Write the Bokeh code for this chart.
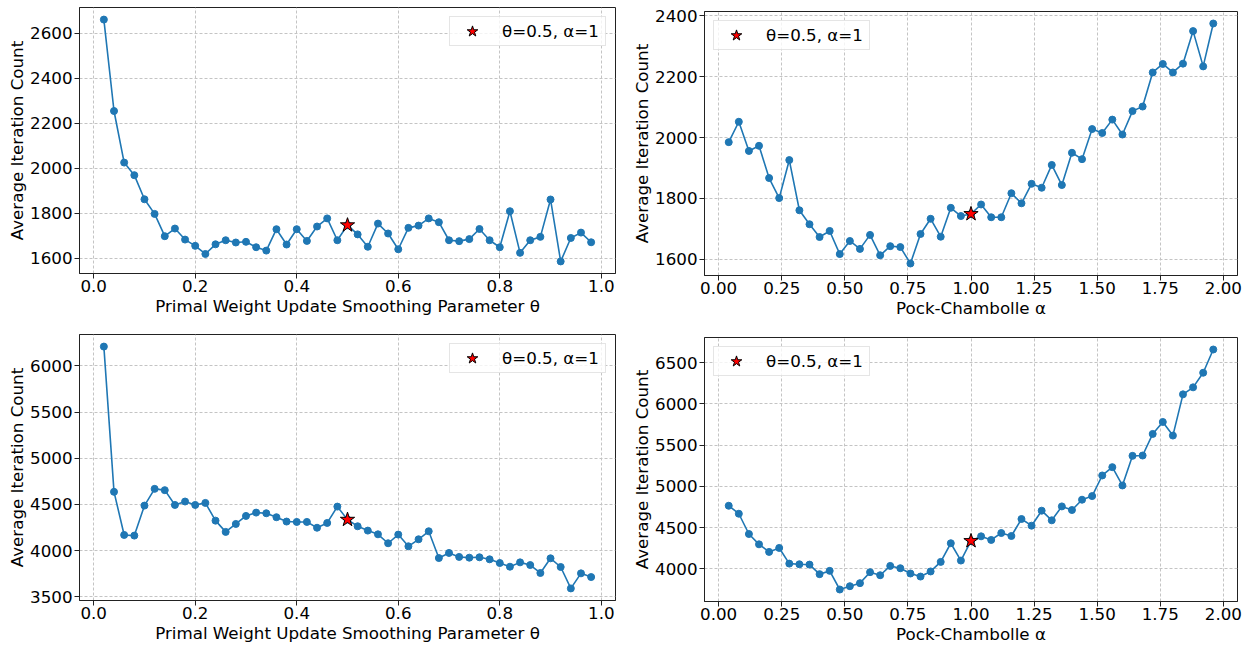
from bokeh.plotting import figure
from bokeh.models import FixedTicker, Range1d, Legend, LegendItem, NumeralTickFormatter
from bokeh.layouts import row, column
from bokeh.embed import file_html
from bokeh.resources import INLINE

# ---------------- data ----------------
theta = [0.02, 0.04, 0.06, 0.08, 0.10, 0.12, 0.14, 0.16, 0.18, 0.20,
         0.22, 0.24, 0.26, 0.28, 0.30, 0.32, 0.34, 0.36, 0.38, 0.40,
         0.42, 0.44, 0.46, 0.48, 0.50, 0.52, 0.54, 0.56, 0.58, 0.60,
         0.62, 0.64, 0.66, 0.68, 0.70, 0.72, 0.74, 0.76, 0.78, 0.80,
         0.82, 0.84, 0.86, 0.88, 0.90, 0.92, 0.94, 0.96, 0.98]
alpha = [0.04, 0.08, 0.12, 0.16, 0.20, 0.24, 0.28, 0.32, 0.36, 0.40,
         0.44, 0.48, 0.52, 0.56, 0.60, 0.64, 0.68, 0.72, 0.76, 0.80,
         0.84, 0.88, 0.92, 0.96, 1.00, 1.04, 1.08, 1.12, 1.16, 1.20,
         1.24, 1.28, 1.32, 1.36, 1.40, 1.44, 1.48, 1.52, 1.56, 1.60,
         1.64, 1.68, 1.72, 1.76, 1.80, 1.84, 1.88, 1.92, 1.96]

iters_theta_top = [2661, 2255, 2026, 1970, 1863, 1798, 1699, 1733, 1684, 1656,
                   1620, 1663, 1681, 1671, 1674, 1650, 1635, 1730, 1662, 1730,
                   1678, 1742, 1778, 1681, 1748, 1707, 1652, 1755, 1711, 1641,
                   1736, 1746, 1778, 1761, 1681, 1677, 1686, 1731, 1681, 1650,
                   1810, 1625, 1681, 1696, 1862, 1587, 1691, 1715, 1672]
iters_alpha_top = [1985, 2052, 1956, 1973, 1867, 1801, 1926, 1761, 1715, 1673,
                   1693, 1617, 1660, 1634, 1680, 1613, 1643, 1640, 1586, 1683,
                   1733, 1674, 1769, 1742, 1749, 1780, 1738, 1738, 1817, 1784,
                   1848, 1835, 1910, 1844, 1950, 1929, 2028, 2015, 2059, 2010,
                   2087, 2102, 2214, 2242, 2214, 2243, 2350, 2234, 2375]
iters_theta_bot = [6210, 4637, 4170, 4163, 4488, 4669, 4655, 4495, 4532, 4495,
                   4517, 4325, 4203, 4289, 4376, 4412, 4405, 4362, 4315, 4311,
                   4311, 4248, 4300, 4477, 4336, 4264, 4217, 4177, 4080, 4174,
                   4047, 4123, 4210, 3920, 3975, 3932, 3924, 3928, 3906, 3866,
                   3826, 3873, 3844, 3758, 3917, 3823, 3591, 3754, 3714]
iters_alpha_bot = [4766, 4669, 4423, 4298, 4206, 4254, 4064, 4056, 4052, 3936,
                   3976, 3750, 3790, 3827, 3960, 3923, 4036, 4008, 3944, 3907,
                   3969, 4085, 4311, 4101, 4339, 4395, 4351, 4435, 4399, 4605,
                   4524, 4706, 4589, 4758, 4714, 4839, 4883, 5133, 5234, 5012,
                   5371, 5375, 5637, 5782, 5617, 6117, 6202, 6379, 6661]

default_theta = 0.5
default_alpha = 1.0
legend_label = "θ=0.5, α=1"

theta_ticks = [0.0, 0.2, 0.4, 0.6, 0.8, 1.0]
alpha_ticks = [0.0, 0.25, 0.5, 0.75, 1.0, 1.25, 1.5, 1.75, 2.0]
yticks_tl = [1600, 1800, 2000, 2200, 2400, 2600]
yticks_tr = [1600, 1800, 2000, 2200, 2400]
yticks_bl = [3500, 4000, 4500, 5000, 5500, 6000]
yticks_br = [4000, 4500, 5000, 5500, 6000, 6500]

xlabel_theta = "Primal Weight Update Smoothing Parameter θ"
xlabel_alpha = "Pock-Chambolle α"
ylabel = "Average Iteration Count"

# ---------------- style ----------------
FONT = "DejaVu Sans"
FS = "16.7px"
BLUE = "#1f77b4"


def make(x, y, star_x, xlabel, xticks, xfmt, yticks, legend_loc,
         width, height, bl, br, bt, bb):
    px = 0.05 * (max(x) - min(x))
    py = 0.05 * (max(y) - min(y))
    p = figure(width=width, height=height, output_backend="svg",
               toolbar_location=None,
               x_range=Range1d(min(x) - px, max(x) + px),
               y_range=Range1d(min(y) - py, max(y) + py),
               min_border_left=bl, min_border_right=br,
               min_border_top=bt, min_border_bottom=bb)
    p.background_fill_color = "white"
    p.border_fill_color = "white"
    p.outline_line_color = "#222222"
    p.outline_line_width = 1
    p.outline_line_alpha = 1.0

    p.line(x, y, line_color=BLUE, line_width=1.6)
    p.scatter(x, y, size=7, fill_color=BLUE, line_color=BLUE)
    idx = x.index(star_x)
    star = p.scatter([star_x], [y[idx]], marker="star", size=15,
                     fill_color="red", line_color="black", line_width=1)

    leg = Legend(items=[LegendItem(label=legend_label, renderers=[star])],
                 location=legend_loc)
    leg.label_text_font = FONT
    leg.label_text_font_size = FS
    leg.label_text_color = "black"
    leg.padding = 0
    leg.margin = 9
    leg.glyph_width = 44
    leg.glyph_height = 28
    leg.label_height = 28
    leg.label_width = 103
    leg.label_standoff = 8
    leg.border_line_color = "#cccccc"
    leg.border_line_width = 1
    leg.background_fill_alpha = 0.8
    p.add_layout(leg)

    for ax in (p.xaxis, p.yaxis):
        ax.axis_label_text_font = FONT
        ax.axis_label_text_font_size = FS
        ax.axis_label_text_font_style = "normal"
        ax.axis_label_text_color = "black"
        ax.major_label_text_font = FONT
        ax.major_label_text_font_size = FS
        ax.major_label_text_color = "black"
        ax.axis_line_color = "#222222"
        ax.major_tick_line_color = "#222222"
        ax.major_tick_out = 5
        ax.major_tick_in = 0
        ax.minor_tick_line_color = None

    p.xaxis.major_label_standoff = 1
    p.xaxis.axis_label_standoff = 1
    p.yaxis.major_label_standoff = 2
    p.yaxis.axis_label_standoff = 0
    p.xaxis.axis_label = xlabel
    p.yaxis.axis_label = ylabel
    p.xaxis.ticker = FixedTicker(ticks=xticks)
    p.xaxis.formatter = NumeralTickFormatter(format=xfmt)
    p.yaxis.ticker = FixedTicker(ticks=yticks)
    p.yaxis.formatter = NumeralTickFormatter(format="0")

    for g in (p.xgrid, p.ygrid):
        g.grid_line_color = "#c4c4c4"
        g.grid_line_width = 1
        g.grid_line_dash = "3 2"
    p.xgrid.ticker = FixedTicker(ticks=xticks)
    p.ygrid.ticker = FixedTicker(ticks=yticks)
    return p


p1 = make(theta, iters_theta_top, default_theta, xlabel_theta, theta_ticks, "0.0",
          yticks_tl, "top_right", 625, 323, 79, 10, 7, 50)
p2 = make(alpha, iters_alpha_top, default_alpha, xlabel_alpha, alpha_ticks, "0.00",
          yticks_tr, "top_left", 626, 323, 79, 14, 11, 48)
p3 = make(theta, iters_theta_bot, default_theta, xlabel_theta, theta_ticks, "0.0",
          yticks_bl, "top_right", 625, 323, 79, 10, 11, 46)
p4 = make(alpha, iters_alpha_bot, default_alpha, xlabel_alpha, alpha_ticks, "0.00",
          yticks_br, "top_left", 626, 323, 79, 14, 14, 44)

layout = column(row(column(p1), column(p2)), row(column(p3), column(p4)))
open("out.html", "w").write(file_html(layout, INLINE))
